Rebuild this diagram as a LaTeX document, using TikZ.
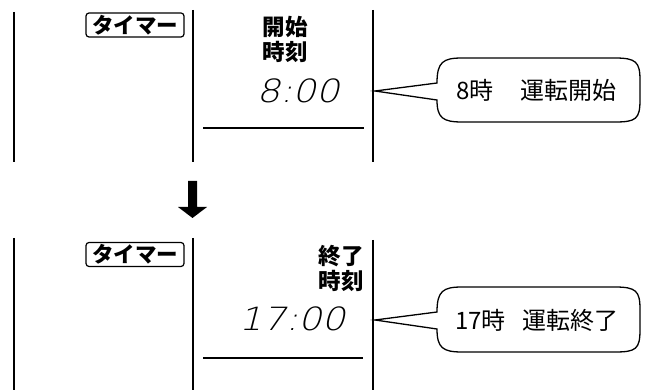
\documentclass[tikz,border=0pt]{standalone}
\usepackage{fontspec}
\newfontfamily\jp{Noto Sans CJK JP}
\newfontfamily\seg[FakeSlant=0.22]{DejaVu Sans ExtraLight}
\begin{document}
\begin{tikzpicture}[x=1pt,y=-1pt,
  frame/.style={line width=1.3pt},
  timerbox/.style={draw,line width=1.2pt,rounded corners=3pt,minimum width=98pt,minimum height=24pt,inner sep=0pt,font=\jp\bfseries\fontsize{21.5}{21.5}\selectfont},
  lbl/.style={align=center,inner sep=0pt,font=\jp\bfseries\fontsize{22.5}{25}\selectfont},
  digits/.style={inner sep=0pt,font=\seg\fontsize{32}{32}\selectfont,xscale=1.15},
  calltext/.style={inner sep=0pt,anchor=west,font=\jp\fontsize{24}{24}\selectfont},
  callout/.style={line width=1.3pt}]
\useasboundingbox (0,0) rectangle (646,390);
% ---------- top panel ----------
\coordinate (t1a) at (14,12);  \coordinate (t1b) at (14,162);
\coordinate (t2a) at (193,10); \coordinate (t2b) at (193,162);
\coordinate (t3a) at (373,10); \coordinate (t3b) at (373,162);
\coordinate (thl) at (203,128); \coordinate (thr) at (364,128);
\draw[frame] (t1a) -- (t1b);
\draw[frame] (t2a) -- (t2b);
\draw[frame] (t3a) -- (t3b);
\draw[frame] (thl) -- (thr);
\node[timerbox] (timer1) at (135,25) {タイマー};
\node[lbl] (lab1) at (285,39.5) {開始\\時刻};
\node[digits] (time1) at (298,91) {8:00};
\coordinate (tip1) at (375,91);
\draw[callout] (tip1) -- (437,83) .. controls (437,62) and (443,58) .. (462,58)
  -- (615,58) .. controls (636,58) and (640,62) .. (640,80)
  -- (640,100) .. controls (640,119) and (636,122) .. (615,122)
  -- (462,122) .. controls (443,122) and (437,118) .. (437,100) -- cycle;
\node[calltext] (msg1) at (456,90.5) {8時\hspace{27pt}運転開始};
% ---------- arrow ----------
\node[inner sep=0pt] (arr) at (192.5,199.5) {};
\fill (188,181) -- (197,181) -- (197,207) -- (207,207) -- (192.5,218) -- (178,207) -- (188,207) -- cycle;
% ---------- bottom panel ----------
\coordinate (b1a) at (14,238);  \coordinate (b1b) at (14,390);
\coordinate (b2a) at (193,238); \coordinate (b2b) at (193,390);
\coordinate (b3a) at (373,240); \coordinate (b3b) at (373,390);
\coordinate (bhl) at (203,358); \coordinate (bhr) at (363,358);
\draw[frame] (b1a) -- (b1b);
\draw[frame] (b2a) -- (b2b);
\draw[frame] (b3a) -- (b3b);
\draw[frame] (bhl) -- (bhr);
\node[timerbox] (timer2) at (135,254.5) {タイマー};
\node[lbl,anchor=east] (lab2) at (364,268) {終了\\時刻};
\node[digits] (time2) at (292,318.5) {17:00};
\coordinate (tip2) at (375,320);
\draw[callout] (tip2) -- (437,312) .. controls (437,291) and (443,287) .. (462,287)
  -- (615,287) .. controls (636,287) and (640,291) .. (640,309)
  -- (640,330) .. controls (640,349) and (636,352) .. (615,352)
  -- (462,352) .. controls (443,352) and (437,348) .. (437,329) -- cycle;
\node[calltext] (msg2) at (455,320) {17時\hspace{17pt}運転終了};
\end{tikzpicture}
\end{document}
